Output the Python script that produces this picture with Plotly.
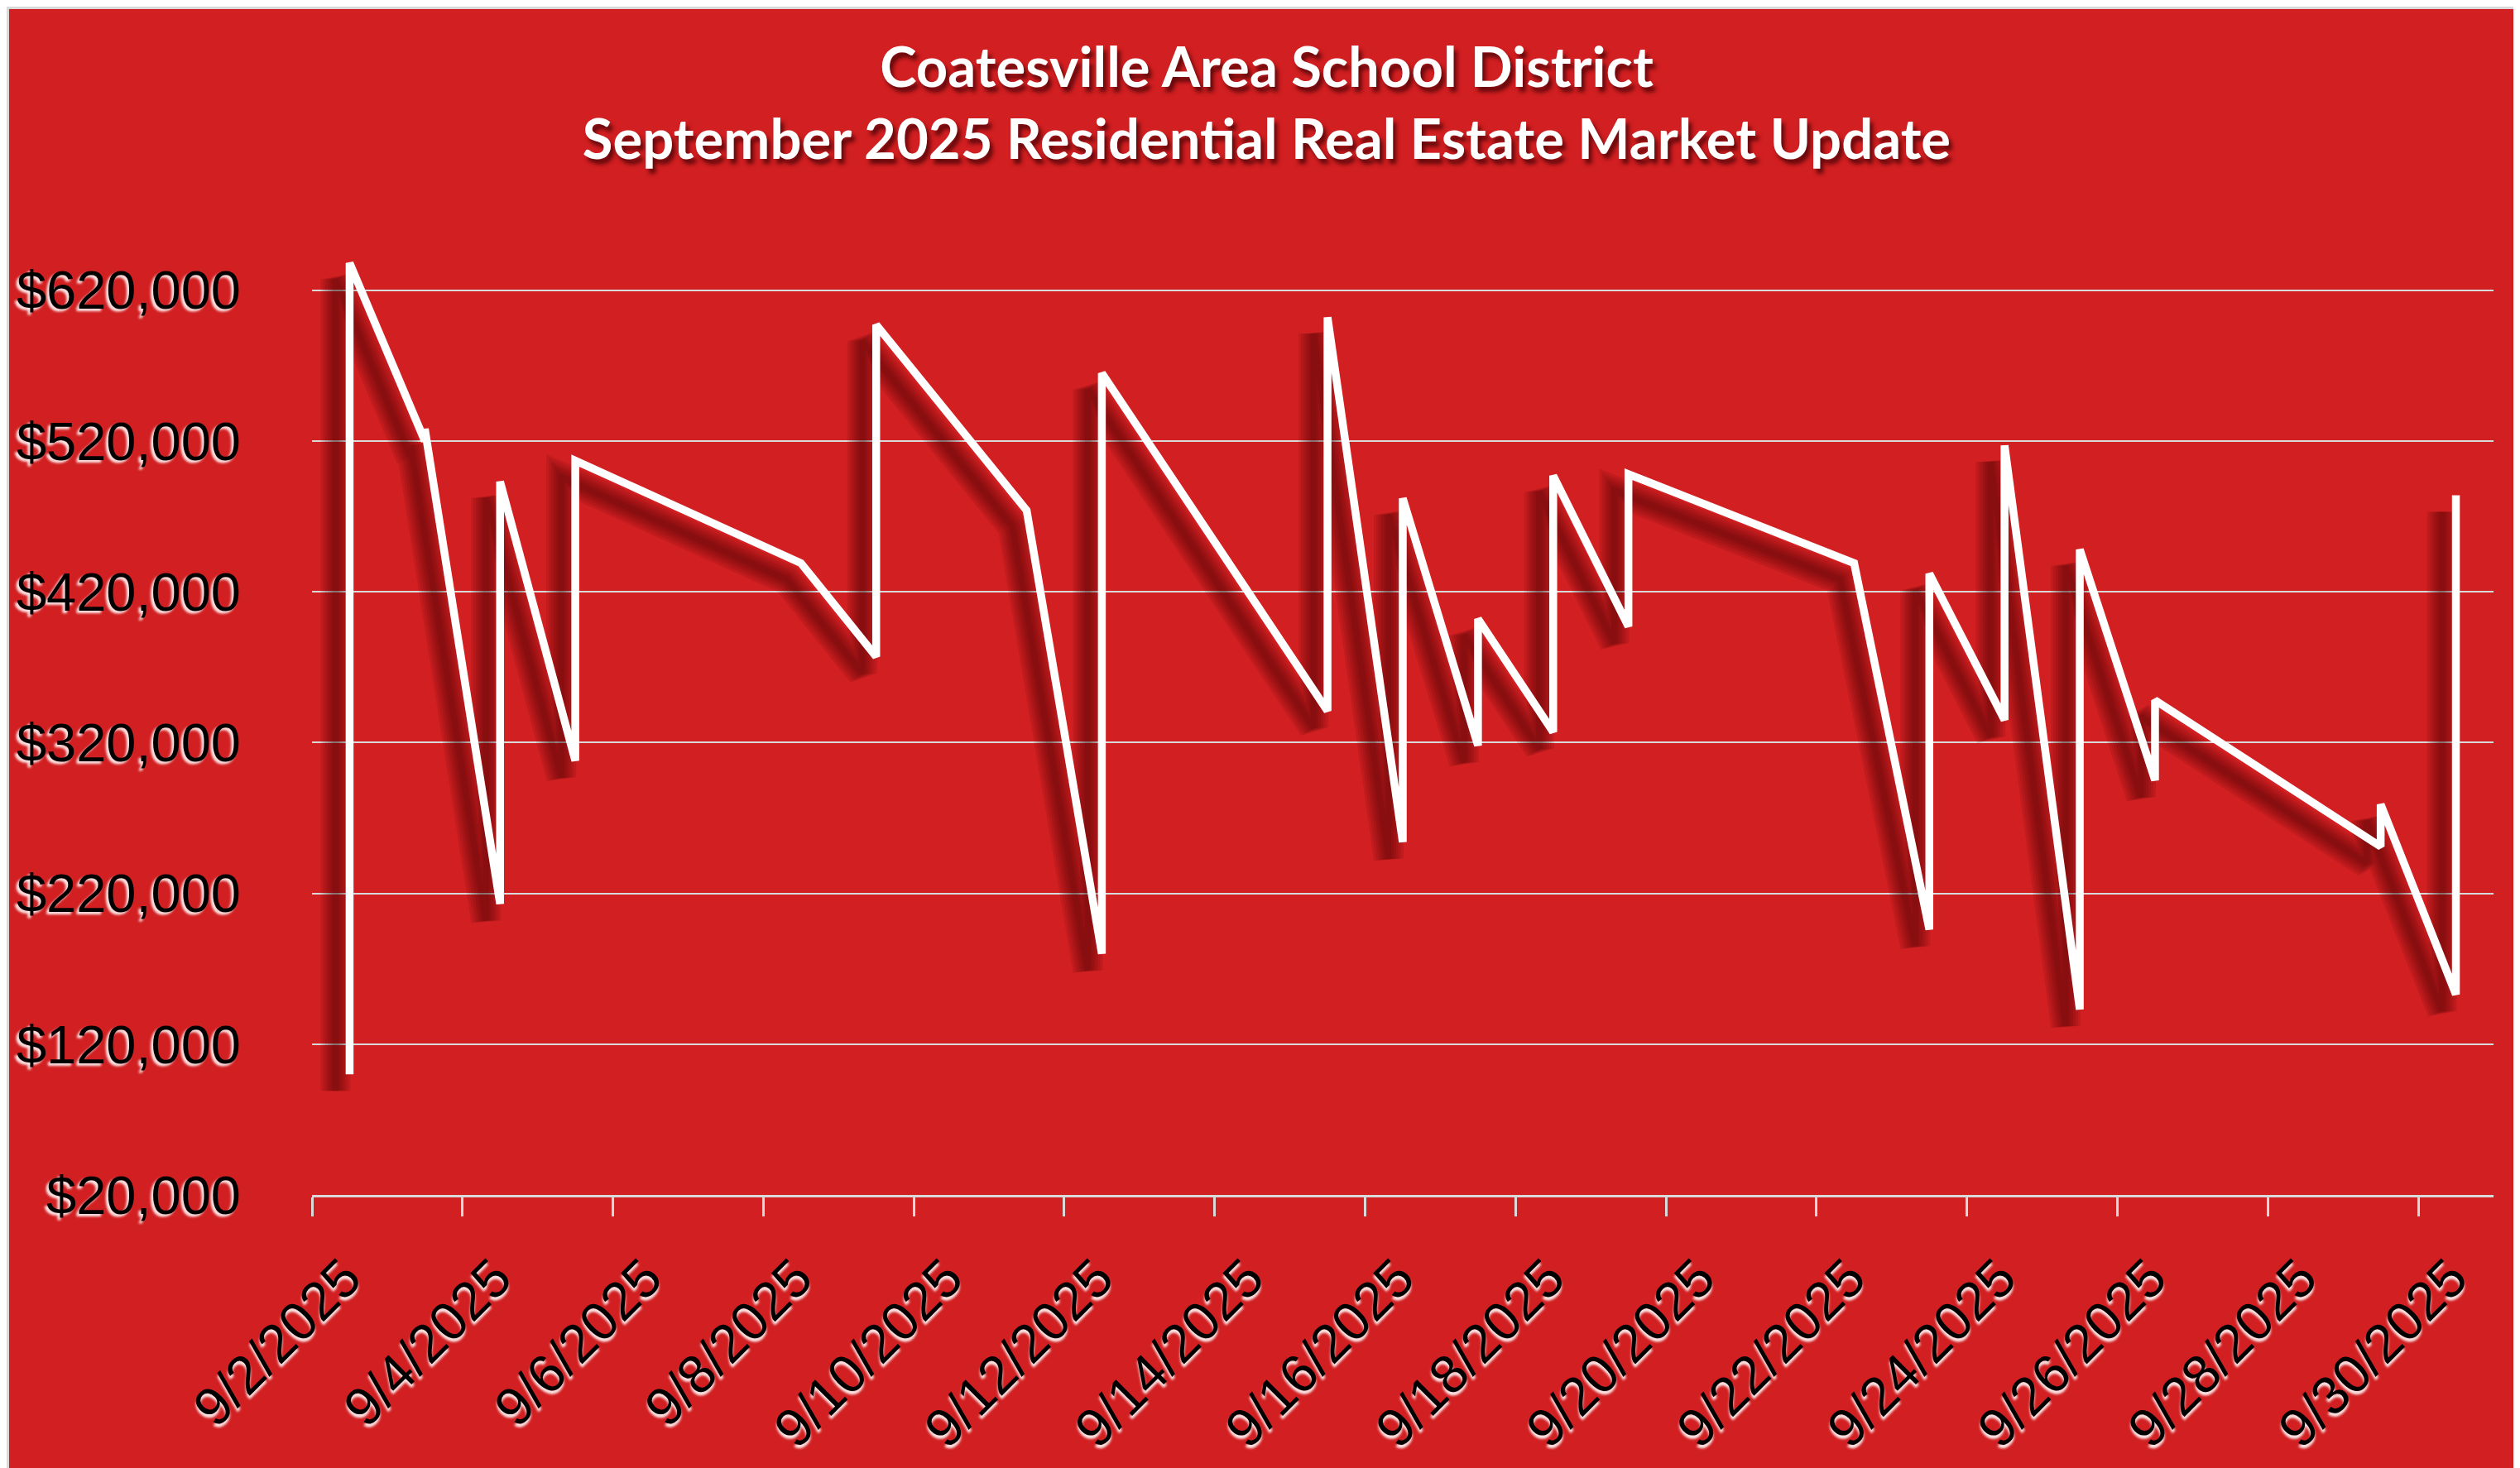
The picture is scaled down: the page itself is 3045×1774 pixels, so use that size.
import plotly.graph_objects as go
from datetime import datetime, timedelta

# ---------------- data ----------------
sale_dates = [
    "2025-09-02", "2025-09-02",
    "2025-09-03", "2025-09-03",
    "2025-09-04", "2025-09-04",
    "2025-09-05", "2025-09-05",
    "2025-09-08",
    "2025-09-09", "2025-09-09",
    "2025-09-11",
    "2025-09-12", "2025-09-12",
    "2025-09-15", "2025-09-15",
    "2025-09-16", "2025-09-16",
    "2025-09-17", "2025-09-17",
    "2025-09-18", "2025-09-18",
    "2025-09-19", "2025-09-19",
    "2025-09-22",
    "2025-09-23", "2025-09-23",
    "2025-09-24", "2025-09-24",
    "2025-09-25", "2025-09-25",
    "2025-09-26", "2025-09-26",
    "2025-09-29", "2025-09-29",
    "2025-09-30", "2025-09-30",
]
sale_prices = [
    100000, 638000,
    520000, 528000,
    213000, 493000,
    308000, 507000,
    439000,
    377000, 597000,
    474000,
    180000, 565000,
    341000, 602000,
    254000, 482000,
    318000, 402000,
    327000, 497000,
    397000, 498000,
    439000,
    196000, 432000,
    335000, 517000,
    143000, 448000,
    295000, 348000,
    251000, 279000,
    153000, 484000,
]
y_tick_values = [20000, 120000, 220000, 320000, 420000, 520000, 620000]
x_range = ["2025-09-02", "2025-10-01"]
y_range = [20000, 650000]
title_lines = ["Coatesville Area School District",
               "September 2025 Residential Real Estate Market Update"]

# ---------------- style ----------------
W, H = 3045, 1774
M = dict(l=369, r=40, t=288, b=338)
BG = "#D21F21"
GRID = "#D9D9D9"
plot_w = W - M["l"] - M["r"]
plot_h = H - M["t"] - M["b"]

# shadow offset in pixels (left / down), realised by shifting the shadow axes
SH_DX, SH_DY = -17, 20
x0 = datetime.fromisoformat(x_range[0])
x1 = datetime.fromisoformat(x_range[1])
span_days = (x1 - x0).total_seconds() / 86400
dx_days = -SH_DX * span_days / plot_w
dy_val = SH_DY * (y_range[1] - y_range[0]) / plot_h
shadow_xrange = [(x0 + timedelta(days=dx_days)).isoformat(),
                 (x1 + timedelta(days=dx_days)).isoformat()]
shadow_yrange = [y_range[0] + dy_val, y_range[1] + dy_val]

fig = go.Figure()
for w in [36, 30, 24, 18, 12, 7]:
    fig.add_trace(go.Scatter(
        x=sale_dates, y=sale_prices, xaxis="x", yaxis="y",
        xperiod=86400000, xperiodalignment="middle",
        mode="lines", line=dict(color="rgba(55,0,2,0.1)", width=w),
        hoverinfo="skip", showlegend=False))

fig.add_trace(go.Scatter(
    x=sale_dates, y=sale_prices, xaxis="x2", yaxis="y2",
    xperiod=86400000, xperiodalignment="middle",
    mode="lines", line=dict(color="white", width=9.5),
    showlegend=False))

tick_font = dict(family="Liberation Sans, Arial, sans-serif", size=65,
                 color="black", shadow="-3px 3px 3px rgba(255,255,255,0.9)")

fig.update_layout(
    width=W, height=H, margin=M,
    paper_bgcolor=BG, plot_bgcolor=BG,
    hovermode=False, showlegend=False,
    title=dict(
        text="<br>".join(title_lines),
        x=0.5, xref="container", xanchor="center",
        y=1 - 97 / H, yref="container", yanchor="top",
        font=dict(family="Lato, sans-serif", size=67, color="white",
                  weight="bold", shadow="4px 6px 5px rgba(80,5,8,0.85)")),
    xaxis=dict(type="date", range=shadow_xrange, visible=False,
               automargin=False),
    yaxis=dict(range=shadow_yrange, visible=False, automargin=False),
    xaxis2=dict(
        type="date", overlaying="x", anchor="y2", range=x_range,
        tickmode="linear", tick0=x_range[0], dtick=2 * 86400000,
        tickformat="%-m/%-d/%Y", tickangle=-45,
        ticks="outside", ticklen=23, tickwidth=3, tickcolor=GRID,
        showline=True, linecolor=GRID, linewidth=3,
        showgrid=False, zeroline=False, automargin=False,
        tickfont=tick_font, ticklabelshift=40, ticklabelstandoff=10),
    yaxis2=dict(
        overlaying="y", anchor="x2", range=y_range,
        tickmode="array", tickvals=y_tick_values, tickformat="$,.0f",
        showgrid=True, gridcolor=GRID, gridwidth=2,
        zeroline=False, showline=False, ticks="", automargin=False,
        tickfont=tick_font, ticklabelstandoff=85),
    shapes=[dict(type="rect", xref="paper", yref="paper",
                 x0=(1.5 - M["l"]) / plot_w, x1=(W - 1.5 - M["l"]) / plot_w,
                 y0=-(M["b"] - 1.5) / plot_h, y1=1 + (M["t"] - 1.5) / plot_h,
                 line=dict(color=GRID, width=3), layer="above")],
)

fig.write_html("out.html")
